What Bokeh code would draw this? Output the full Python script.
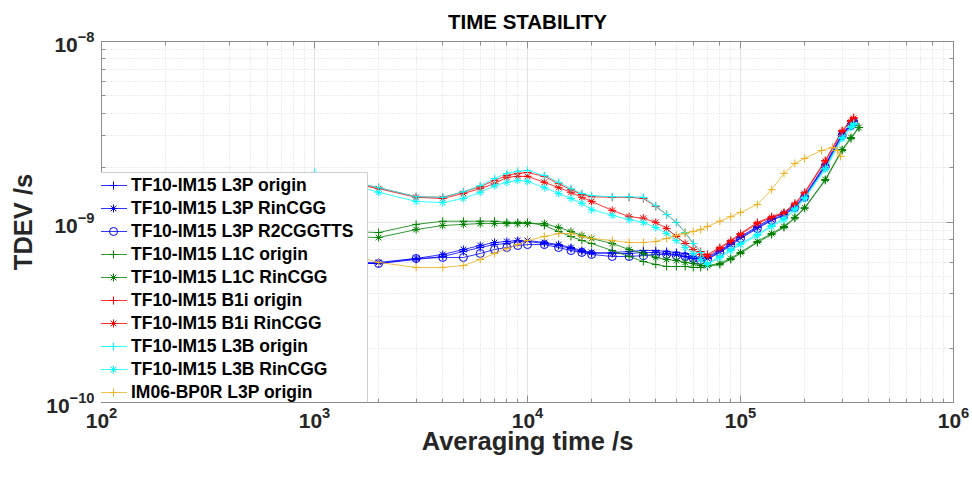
from bokeh.plotting import figure
from bokeh.models import LogAxis, LogTicker
from bokeh.embed import file_html
from bokeh.resources import INLINE

# Averaging times (s)
TAU = [1000, 2000, 3000, 4000, 5000, 6000, 7000, 8000, 9000, 10000,
       12000, 14000, 16000, 18000, 20000, 25000, 30000, 35000, 40000, 45000,
       50000, 55000, 60000, 65000, 70000, 80000, 90000, 100000, 120000, 140000,
       160000, 180000, 200000, 250000, 300000, 330000, 340000]
TAU_L1C = [1000, 2000, 3000, 4000, 5000, 6000, 7000, 8000, 9000, 10000,
           12000, 14000, 16000, 18000, 20000, 25000, 30000, 35000, 40000, 45000,
           50000, 55000, 60000, 65000, 70000, 80000, 90000, 100000, 120000, 140000,
           160000, 180000, 200000, 250000, 300000, 330000, 360000]
TAU_IM06 = [1000, 2000, 3000, 4000, 5000, 6000, 7000, 8000, 9000, 10000,
            12000, 14000, 16000, 18000, 20000, 25000, 30000, 35000, 40000, 45000,
            50000, 55000, 60000, 65000, 70000, 80000, 90000, 100000, 120000, 140000,
            160000, 180000, 200000, 240000, 270000, 285000, 295000]

# TDEV values (ns)
L3P_ORIGIN = [0.589, 0.589, 0.62, 0.644, 0.686, 0.722, 0.75, 0.76, 0.78, 0.78,
              0.76, 0.741, 0.713, 0.686, 0.669, 0.678, 0.686, 0.695, 0.695, 0.686,
              0.678, 0.669, 0.644, 0.628, 0.636, 0.695, 0.76, 0.831, 0.944, 1.05,
              1.12, 1.23, 1.40, 2.09, 3.09, 3.51, 3.65]
L3P_RINCGG = [0.597, 0.597, 0.628, 0.661, 0.704, 0.741, 0.77, 0.78, 0.79, 0.79,
              0.77, 0.75, 0.722, 0.695, 0.678, 0.669, 0.669, 0.678, 0.678, 0.669,
              0.661, 0.644, 0.628, 0.62, 0.628, 0.686, 0.75, 0.82, 0.932, 1.03,
              1.10, 1.22, 1.38, 2.06, 3.05, 3.47, 3.60]
L3P_R2CGGTTS = [0.589, 0.589, 0.628, 0.636, 0.636, 0.669, 0.704, 0.722, 0.741, 0.75,
                0.75, 0.722, 0.695, 0.678, 0.661, 0.644, 0.644, 0.652, 0.661, 0.661,
                0.652, 0.644, 0.628, 0.612, 0.62, 0.678, 0.741, 0.81, 0.92, 1.02,
                1.09, 1.20, 1.37, 2.03, 3.01, 3.42, 3.56]
L1C_ORIGIN = [0.897, 0.874, 0.97, 1.01, 1.01, 1.01, 1.01, 0.995, 0.995, 0.995,
              0.956, 0.886, 0.831, 0.79, 0.76, 0.695, 0.644, 0.604, 0.582, 0.567,
              0.567, 0.567, 0.56, 0.56, 0.567, 0.582, 0.62, 0.669, 0.77, 0.852,
              0.932, 1.05, 1.19, 1.70, 2.49, 2.90, 3.34]
L1C_RINCGG = [0.842, 0.82, 0.908, 0.956, 0.97, 0.98, 0.98, 0.98, 0.98, 0.98,
              0.98, 0.932, 0.886, 0.842, 0.81, 0.76, 0.704, 0.669, 0.636, 0.62,
              0.612, 0.597, 0.589, 0.574, 0.574, 0.589, 0.628, 0.678, 0.78, 0.863,
              0.944, 1.06, 1.20, 1.72, 2.52, 2.94, 3.34]
B1I_ORIGIN = [1.81, 1.55, 1.38, 1.37, 1.47, 1.57, 1.70, 1.81, 1.86, 1.88,
              1.79, 1.63, 1.51, 1.42, 1.38, 1.37, 1.37, 1.35, 1.22, 1.10,
              0.995, 0.874, 0.76, 0.686, 0.661, 0.722, 0.79, 0.863, 0.995, 1.07,
              1.13, 1.27, 1.46, 2.19, 3.21, 3.65, 3.79]
B1I_RINCGG = [1.79, 1.53, 1.37, 1.35, 1.44, 1.53, 1.63, 1.77, 1.79, 1.79,
              1.66, 1.55, 1.46, 1.37, 1.30, 1.16, 1.07, 1.05, 0.995, 0.92,
              0.831, 0.76, 0.704, 0.661, 0.644, 0.713, 0.78, 0.852, 0.98, 1.06,
              1.12, 1.25, 1.44, 2.17, 3.17, 3.60, 3.75]
L3B_ORIGIN = [1.88, 1.55, 1.38, 1.37, 1.47, 1.59, 1.74, 1.86, 1.91, 1.93,
              1.81, 1.66, 1.53, 1.44, 1.40, 1.38, 1.38, 1.37, 1.23, 1.10,
              0.995, 0.874, 0.76, 0.678, 0.589, 0.644, 0.704, 0.76, 0.852, 0.956,
              1.05, 1.19, 1.37, 1.98, 2.94, 3.38, 3.51]
L3B_RINCGG = [1.84, 1.46, 1.30, 1.28, 1.35, 1.46, 1.59, 1.66, 1.70, 1.68,
              1.55, 1.44, 1.35, 1.27, 1.17, 1.09, 1.03, 0.995, 0.932, 0.863,
              0.79, 0.722, 0.669, 0.62, 0.582, 0.636, 0.695, 0.75, 0.842, 0.944,
              1.03, 1.17, 1.35, 1.96, 2.90, 3.34, 3.47]
IM06_L3P_ORIGIN = [0.741, 0.597, 0.56, 0.56, 0.574, 0.62, 0.669, 0.713, 0.75, 0.79,
                   0.831, 0.863, 0.863, 0.831, 0.81, 0.79, 0.77, 0.77, 0.78, 0.81,
                   0.842, 0.863, 0.886, 0.908, 0.944, 1.01, 1.07, 1.13, 1.25, 1.51,
                   1.86, 2.11, 2.25, 2.49, 2.59, 2.49, 2.31]

LABELS = ["TF10-IM15 L3P origin", "TF10-IM15 L3P RinCGG", "TF10-IM15 L3P R2CGGTTS",
          "TF10-IM15 L1C origin", "TF10-IM15 L1C RinCGG", "TF10-IM15 B1i origin",
          "TF10-IM15 B1i RinCGG", "TF10-IM15 L3B origin", "TF10-IM15 L3B RinCGG",
          "IM06-BP0R L3P origin"]

FONT = "Liberation Sans"
AX_COL = "#8c8c8c"

p = figure(width=972, height=480, x_axis_type="log", y_axis_type="log",
           x_range=(1e2, 1e6), y_range=(1e-10, 1e-8),
           output_backend="svg", toolbar_location=None,
           min_border_left=101, min_border_right=19,
           min_border_top=41, min_border_bottom=78)

p.title.text = "TIME STABILITY"
p.title.align = "center"
p.title.vertical_align = "top"
p.title.text_font = FONT
p.title.text_font_size = "20.5px"
p.title.text_font_style = "bold"
p.title.text_color = "#000000"
p.title.standoff = 14

p.outline_line_color = AX_COL
p.background_fill_color = "white"
p.border_fill_color = "white"

for ax in (p.xaxis[0], p.yaxis[0]):
    ax.axis_line_color = AX_COL
    ax.major_tick_line_color = AX_COL
    ax.minor_tick_line_color = AX_COL
    ax.major_tick_in = 7
    ax.major_tick_out = 0
    ax.minor_tick_in = 4
    ax.minor_tick_out = 0
    ax.major_label_text_font = FONT
    ax.major_label_text_font_style = "bold"
    ax.major_label_text_font_size = "21px"
    ax.major_label_text_color = "#262626"
    ax.axis_label_text_font = FONT
    ax.axis_label_text_font_style = "bold"
    ax.axis_label_text_font_size = "25.5px"
    ax.axis_label_text_color = "#262626"

p.xaxis.axis_label = "Averaging time /s"
p.yaxis.axis_label = "TDEV /s"
p.xaxis.axis_label_standoff = -4
p.yaxis.axis_label_standoff = 6
p.xaxis.major_label_standoff = 4
p.yaxis.major_label_standoff = 7

for loc in ("above", "right"):
    ax = LogAxis(ticker=LogTicker(), axis_line_color=AX_COL,
                 major_tick_line_color=AX_COL, minor_tick_line_color=AX_COL,
                 major_tick_in=7, major_tick_out=0, minor_tick_in=4, minor_tick_out=0,
                 major_label_text_color=None, major_label_text_font_size="2px",
                 major_label_standoff=0)
    p.add_layout(ax, loc)

p.grid.grid_line_color = "#e3e3e3"
p.grid.grid_line_width = 1
p.grid.minor_grid_line_color = "#d9d9d9"
p.grid.minor_grid_line_dash = "1 2"

BLUE, GREEN, RED, CYAN, ORANGE = "#0000ff", "#008000", "#ff0000", "#00ffff", "#edb120"

series = [
    (TAU, L3P_ORIGIN, BLUE, "cross"),
    (TAU, L3P_RINCGG, BLUE, "asterisk"),
    (TAU, L3P_R2CGGTTS, BLUE, "circle"),
    (TAU_L1C, L1C_ORIGIN, GREEN, "cross"),
    (TAU_L1C, L1C_RINCGG, GREEN, "asterisk"),
    (TAU, B1I_ORIGIN, RED, "cross"),
    (TAU, B1I_RINCGG, RED, "asterisk"),
    (TAU, L3B_ORIGIN, CYAN, "cross"),
    (TAU, L3B_RINCGG, CYAN, "asterisk"),
    (TAU_IM06, IM06_L3P_ORIGIN, ORANGE, "cross"),
]

for (tx, vals, col, mk), lab in zip(series, LABELS):
    ys = [v * 1e-9 for v in vals]
    p.line(tx, ys, line_color=col, line_width=0.8, legend_label=lab)
    p.scatter(tx, ys, marker=mk, size=8,
              line_color=col, fill_color=None, line_width=1, legend_label=lab)

lg = p.legend[0]
lg.location = (-4, -3)
lg.border_line_color = "#a0a0a0"
lg.background_fill_color = "white"
lg.background_fill_alpha = 1
lg.label_text_font = FONT
lg.label_text_font_style = "bold"
lg.label_text_font_size = "17.5px"
lg.label_text_color = "#000000"
lg.glyph_width = 28
lg.glyph_height = 20
lg.label_height = 22
lg.label_width = 235
lg.spacing = 1
lg.padding = 1
lg.margin = 0
lg.label_standoff = 4

open("out.html", "w").write(file_html(p, INLINE))
